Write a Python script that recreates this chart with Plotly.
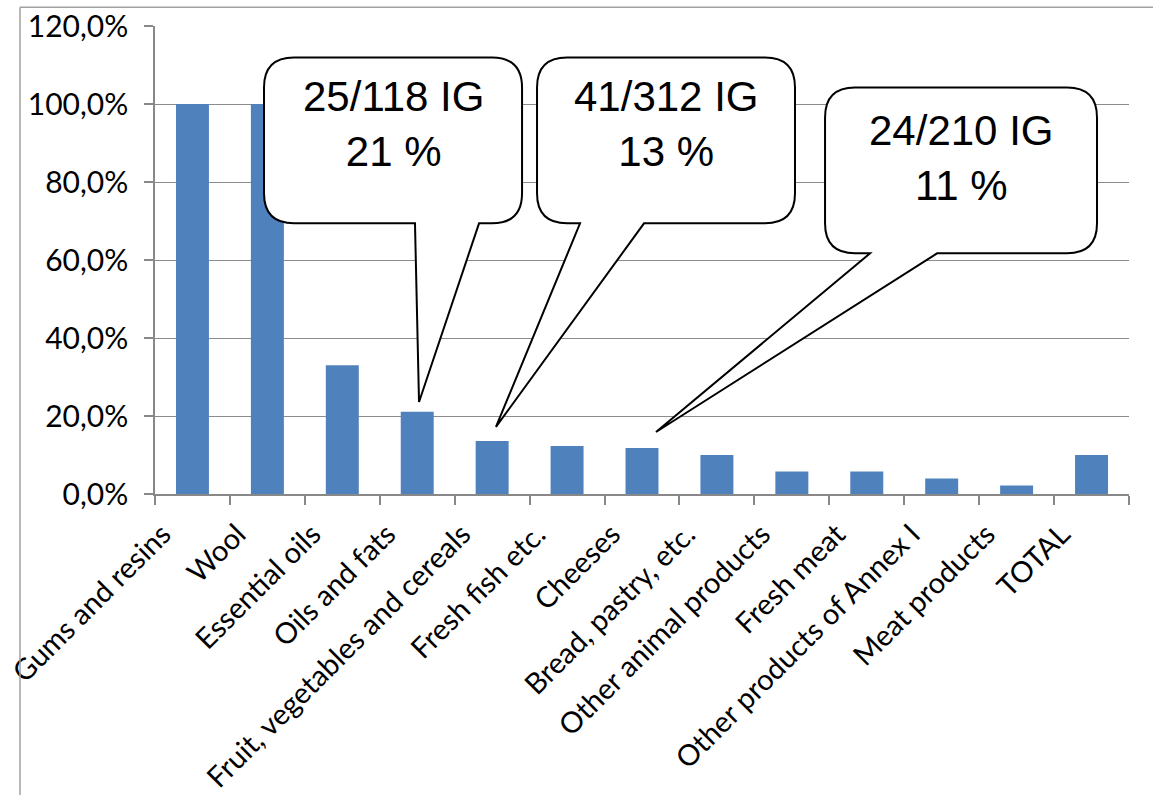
import plotly.graph_objects as go

categories = ["Gums and resins", "Wool", "Essential oils", "Oils and fats",
              "Fruit, vegetables and cereals", "Fresh fish etc.", "Cheeses",
              "Bread, pastry, etc.", "Other animal products", "Fresh meat",
              "Other products of Annex I", "Meat products", "TOTAL"]
values = [1.00, 1.00, 0.330, 0.211, 0.136, 0.123, 0.118, 0.100, 0.058, 0.058, 0.040, 0.022, 0.100]

y_tickvals = [0, 0.2, 0.4, 0.6, 0.8, 1.0, 1.2]

# callouts: text, box (x0, x1, y0, y1), tail base (xa, xb), tip (x, y)  -- data units
callouts = [
    dict(text="25/118 IG<br>21 %", box=(0.955, 4.399, 0.694, 1.119), base=(2.970, 3.825), tip=(3.024, 0.236), ty=0.948),
    dict(text="41/312 IG<br>13 %", box=(4.599, 8.042, 0.694, 1.119), base=(5.173, 6.027), tip=(4.051, 0.172), ty=0.948),
    dict(text="24/210 IG<br>11 %", box=(8.443, 12.073, 0.617, 1.042), base=(9.043, 9.938), tip=(6.187, 0.159), ty=0.862),
]

xs = list(range(len(categories)))

fig = go.Figure()
fig.add_trace(go.Bar(x=xs, y=values, marker=dict(color="#4F81BD", line=dict(width=0)),
                     width=0.44, hoverinfo="skip"))

rx, ry = 0.40, 0.077
shapes = []
annotations = []
for c in callouts:
    x0, x1, y0, y1 = c["box"]
    xa, xb = c["base"]
    tx, tyy = c["tip"]
    p = (f"M {x0+rx},{y1} L {x1-rx},{y1} Q {x1},{y1} {x1},{y1-ry} "
         f"L {x1},{y0+ry} Q {x1},{y0} {x1-rx},{y0} "
         f"L {xb},{y0} L {tx},{tyy} L {xa},{y0} "
         f"L {x0+rx},{y0} Q {x0},{y0} {x0},{y0+ry} "
         f"L {x0},{y1-ry} Q {x0},{y1} {x0+rx},{y1} Z")
    shapes.append(dict(type="path", path=p, xref="x", yref="y", layer="above",
                       fillcolor="white", line=dict(color="black", width=2)))
    annotations.append(dict(x=(x0 + x1) / 2, y=c["ty"], xref="x", yref="y", text=c["text"],
                            showarrow=False, font=dict(family="Liberation Sans, Arial", size=42, color="black"),
                            align="center", xanchor="center", yanchor="middle"))

# chart border (left and top edges)
shapes.append(dict(type="line", xref="paper", yref="paper", x0=-0.1386, x1=1.1, y0=1.040, y1=1.040,
                   line=dict(color="#A0A0A0", width=1.5)))
shapes.append(dict(type="line", xref="paper", yref="paper", x0=-0.1386, x1=-0.1386, y0=1.040, y1=-0.7,
                   line=dict(color="#A0A0A0", width=1.5)))

fig.update_layout(
    width=1153, height=795,
    margin=dict(l=155, r=24, t=26, b=301),
    plot_bgcolor="white", paper_bgcolor="white",
    separators=", ",
    showlegend=False,
    bargap=0.56,
    shapes=shapes,
    annotations=annotations,
    font=dict(family="Lato, Open Sans, sans-serif", size=30, color="black"),
)
fig.update_xaxes(
    range=[-0.5, len(categories) - 0.5],
    tickmode="array", tickvals=xs, ticktext=categories,
    tickangle=-45, ticks="", showgrid=False, automargin=False,
    showline=True, linecolor="#888888", linewidth=1.5,
    minor=dict(tickmode="linear", tick0=-0.5, dtick=1, ticks="outside", ticklen=9,
               tickcolor="#888888", tickwidth=1.5, showgrid=False),
    ticklabelshift=-30, ticklabelstandoff=10, ticklabeloverflow="allow",
    tickfont=dict(size=29),
)
fig.update_yaxes(
    range=[0, 1.2], tickmode="array", tickvals=y_tickvals, tickformat=".1%",
    showgrid=True, gridcolor="#8C8C8C", gridwidth=1.2, automargin=False,
    showline=True, linecolor="#888888", linewidth=1.5,
    ticks="outside", ticklen=9, tickcolor="#888888", tickwidth=1.5,
    ticklabelstandoff=10, zeroline=False,
    tickfont=dict(size=30),
)

fig.write_html("out.html")
